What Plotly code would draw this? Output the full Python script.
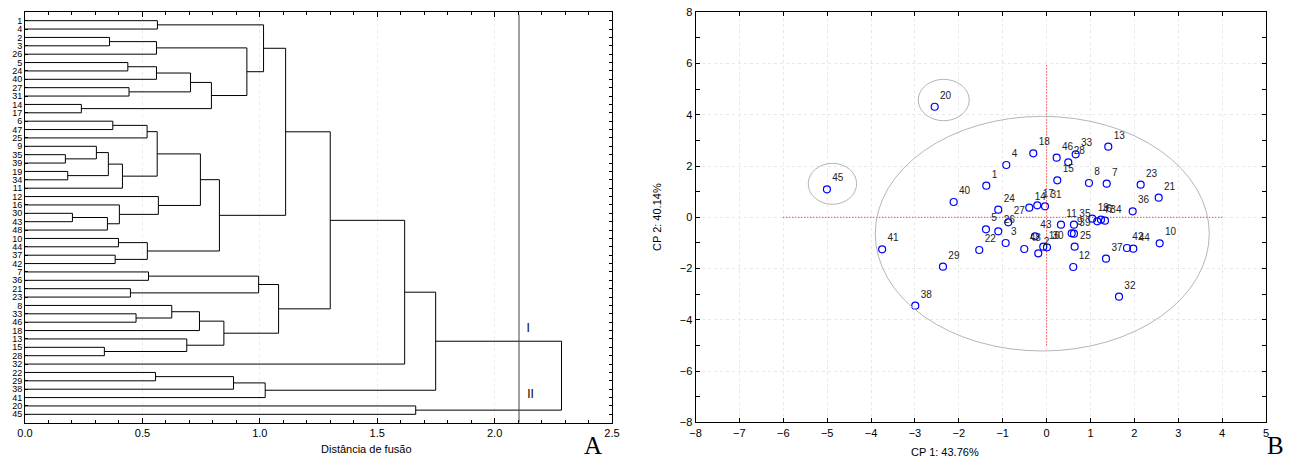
import plotly.graph_objects as go

# ---------------- Dendrogram data ----------------
leaf_order = [1, 4, 2, 3, 26, 5, 24, 40, 27, 31, 14, 17, 6, 47, 25, 9, 35, 39, 19, 34,
              11, 12, 16, 30, 43, 48, 10, 44, 37, 42, 7, 36, 21, 23, 8, 33, 46, 18, 13,
              15, 28, 32, 22, 29, 38, 41, 20, 45]
# merges: (child_a, child_b, distance); ints are leaves, "#k" refers to merge k
merges = [
    (1, 4, 0.564), (2, 3, 0.360), ("#1", 26, 0.560), (5, 24, 0.438), ("#3", 40, 0.560),
    (27, 31, 0.443), ("#4", "#5", 0.705), (14, 17, 0.240), ("#6", "#7", 0.794),
    ("#2", "#8", 0.945), ("#0", "#9", 1.016), (6, 47, 0.374), ("#11", 25, 0.520),
    (35, 39, 0.172), (9, "#13", 0.304), (19, 34, 0.182), ("#14", "#15", 0.355),
    ("#16", 11, 0.415), ("#12", "#17", 0.563), (30, 43, 0.202), ("#19", 48, 0.351),
    (16, "#20", 0.402), (12, "#21", 0.568), ("#18", "#22", 0.747), (10, 44, 0.398),
    (37, 42, 0.384), ("#24", "#25", 0.521), ("#23", "#26", 0.828), ("#10", "#27", 1.110),
    (7, 36, 0.526), (21, 23, 0.449), ("#29", "#30", 0.995), (33, 46, 0.473),
    (8, "#32", 0.625), ("#33", 18, 0.743), (15, 28, 0.338), (13, "#35", 0.689),
    ("#34", "#36", 0.847), ("#31", "#37", 1.080), ("#28", "#38", 1.300),
    ("#39", 32, 1.617), (22, 29, 0.556), ("#41", 38, 0.888), ("#42", 41, 1.023),
    ("#40", "#43", 1.749), (20, 45, 1.664), ("#44", "#45", 2.285),
]
cut_distance = [2.104]
group_labels = ["I", "II"]
group_label_pos_x = [2.143, 2.153]
group_label_pos_y = [37.85, 45.7]

# ---------------- PCA scatter data ----------------
ids = [1, 2, 3, 4, 5, 6, 7, 8, 9, 10, 11, 12, 13, 14, 15, 16, 17, 18, 19, 20, 21, 22, 23, 24,
       25, 26, 27, 28, 29, 30, 31, 32, 33, 34, 35, 36, 37, 38, 39, 40, 41, 42, 43, 44, 45, 46, 47, 48]
pc1 = [-1.374, -0.189, -0.932, -0.918, -1.381, 1.240, 1.370, 0.966, 0.572, 2.577, 0.328, 0.608,
       1.406, -0.394, 0.244, -0.075, -0.212, -0.303, 1.041, -2.550, 2.555, -1.534, 2.144, -1.101,
       0.640, -1.101, -0.873, 0.495, -2.361, 0.009, -0.036, 1.650, 0.663, 1.331, 0.624, 1.962,
       1.354, -2.992, 0.624, -2.117, -3.747, 1.832, -0.264, 1.976, -5.005, 0.230, 1.155, -0.508]
pc2 = [1.233, -1.405, -1.003, 2.041, -0.468, -0.094, 1.311, 1.338, -0.624, -1.014, -0.289, -1.940,
       2.755, 0.375, 1.444, -1.147, 0.468, 2.497, -0.055, 4.315, 0.765, -1.276, 1.272, 0.297,
       -1.147, -0.546, -0.195, 2.146, -1.927, -1.171, 0.429, -3.098, 2.458, -0.133, -0.289, 0.234,
       -1.615, -3.449, -0.640, 0.597, -1.249, -1.198, -0.741, -1.225, 1.092, 2.325, -0.156, -1.237]
# ellipses: x0, x1, y0, y1
ellipse_x0 = [-3.904, -2.925, -5.431]
ellipse_x1 = [3.708, -1.763, -4.328]
ellipse_y0 = [-5.217, 3.769, 0.507]
ellipse_y1 = [3.940, 5.384, 2.107]
refline_h = [-6.0, 4.0]   # y = 0 from x=-6 to 4
refline_v = [-5.0, 6.0]   # x = 0 from y=-5 to 6

# ---------------- Build dendrogram segments ----------------
leaf_y = {lab: i + 1 for i, lab in enumerate(leaf_order)}
node_y, node_x = [], []


def child(c):
    if isinstance(c, str):
        k = int(c[1:])
        return node_x[k], node_y[k]
    return 0.0, leaf_y[c]


seg_x, seg_y = [], []
for a, b, d in merges:
    xa, ya = child(a)
    xb, yb = child(b)
    seg_x += [xa, d, d, xb, None]
    seg_y += [ya, ya, yb, yb, None]
    node_x.append(d)
    node_y.append((ya + yb) / 2)

FONT = "Liberation Sans, Arial, sans-serif"
fig = go.Figure()
fig.add_trace(go.Scatter(x=seg_x, y=seg_y, mode="lines", line=dict(color="black", width=1),
                         xaxis="x", yaxis="y", hoverinfo="skip", showlegend=False))
fig.add_trace(go.Scatter(x=[cut_distance[0], cut_distance[0]], y=[0.3, 49], mode="lines",
                         line=dict(color="#444444", width=1), xaxis="x", yaxis="y",
                         hoverinfo="skip", showlegend=False))
fig.add_trace(go.Scatter(x=group_label_pos_x, y=group_label_pos_y, mode="text", text=group_labels,
                         textfont=dict(family=FONT, size=12, color="black"),
                         xaxis="x", yaxis="y", showlegend=False))

# ---------------- Scatter ----------------
fig.add_trace(go.Scatter(x=refline_h, y=[0, 0], mode="lines",
                         line=dict(color="#ff0000", width=1, dash="1px,2px"),
                         xaxis="x2", yaxis="y2", hoverinfo="skip", showlegend=False))
fig.add_trace(go.Scatter(x=[0, 0], y=refline_v, mode="lines",
                         line=dict(color="#ff0000", width=1, dash="1px,2px"),
                         xaxis="x2", yaxis="y2", hoverinfo="skip", showlegend=False))
fig.add_trace(go.Scatter(x=pc1, y=pc2, mode="markers+text", text=[str(i) for i in ids],
                         textposition="top right",
                         textfont=dict(family=FONT, size=10, color="#222222"),
                         marker=dict(symbol="circle-open", size=7, color="blue",
                                     line=dict(width=1.2, color="blue")),
                         xaxis="x2", yaxis="y2", showlegend=False))

for x0, x1, y0, y1 in zip(ellipse_x0, ellipse_x1, ellipse_y0, ellipse_y1):
    fig.add_shape(type="circle", xref="x2", yref="y2", x0=x0, x1=x1, y0=y0, y1=y1,
                  line=dict(color="#b5b5b5", width=1), layer="above")

# the page body margin is removed by post_script, so reference pixels map directly
W, H = 1305, 473


def px(x):
    return x / W


def py(y):
    return 1 - y / H


axis_common = dict(showline=True, linecolor="black", linewidth=1, mirror="ticks",
                   ticks="inside", tickcolor="black", zeroline=False, automargin=False,
                   ticklabeloverflow="allow",
                   tickfont=dict(family=FONT, size=11, color="black"))

fig.update_layout(
    width=W, height=H, margin=dict(l=0, r=0, t=0, b=0, pad=0, autoexpand=False),
    paper_bgcolor="white", plot_bgcolor="white",
    xaxis=dict(domain=[px(25), px(612)], range=[0, 2.5], dtick=0.5, tickformat=".1f",
               ticklen=5, showgrid=True, gridcolor="#ececec", griddash="dot",
               minor=dict(dtick=0.1, ticks="inside", ticklen=3, tickcolor="black", showgrid=False),
               anchor="y", **axis_common),
    yaxis=dict(domain=[py(422.7), py(12.3)], range=[49, 0],
               tickvals=list(range(1, 49)), ticktext=[str(v) for v in leaf_order],
               ticklen=3, showgrid=False, anchor="x",
               **{**axis_common, "tickfont": dict(family=FONT, size=9, color="black")}),
    xaxis2=dict(domain=[px(695.5), px(1266)], range=[-8, 5], dtick=1, ticklen=4,
                showgrid=True, gridcolor="#e8e8e8", griddash="dot", anchor="y2", **axis_common),
    yaxis2=dict(domain=[py(422.3), py(12.3)], range=[-8, 8], dtick=2, ticklen=4,
                showgrid=True, gridcolor="#e8e8e8", griddash="dot",
                minor=dict(dtick=1, ticks="inside", ticklen=4, tickcolor="black", showgrid=False),
                anchor="x2", **axis_common),
    annotations=[
        dict(text="Distância de fusão", x=px(318.5), y=py(457), xref="paper", yref="paper",
             showarrow=False, font=dict(family=FONT, size=11, color="black")),
        dict(text="CP 1: 43.76%", x=px(981), y=py(460), xref="paper", yref="paper",
             showarrow=False, font=dict(family=FONT, size=11, color="black")),
        dict(text="CP 2: 40.14%", x=px(657), y=py(217), xref="paper", yref="paper",
             showarrow=False, textangle=-90, font=dict(family=FONT, size=11, color="black")),
        dict(text="A", x=px(593), y=py(461), xref="paper", yref="paper", showarrow=False,
             font=dict(family="Liberation Serif, Times New Roman, serif", size=25, color="black")),
        dict(text="B", x=px(1286), y=py(461), xref="paper", yref="paper", showarrow=False,
             font=dict(family="Liberation Serif, Times New Roman, serif", size=25, color="black")),
    ],
)

fig.write_html("out.html", config={"displayModeBar": False},
               post_script="document.body.style.margin='0';document.body.style.overflow='hidden';")
